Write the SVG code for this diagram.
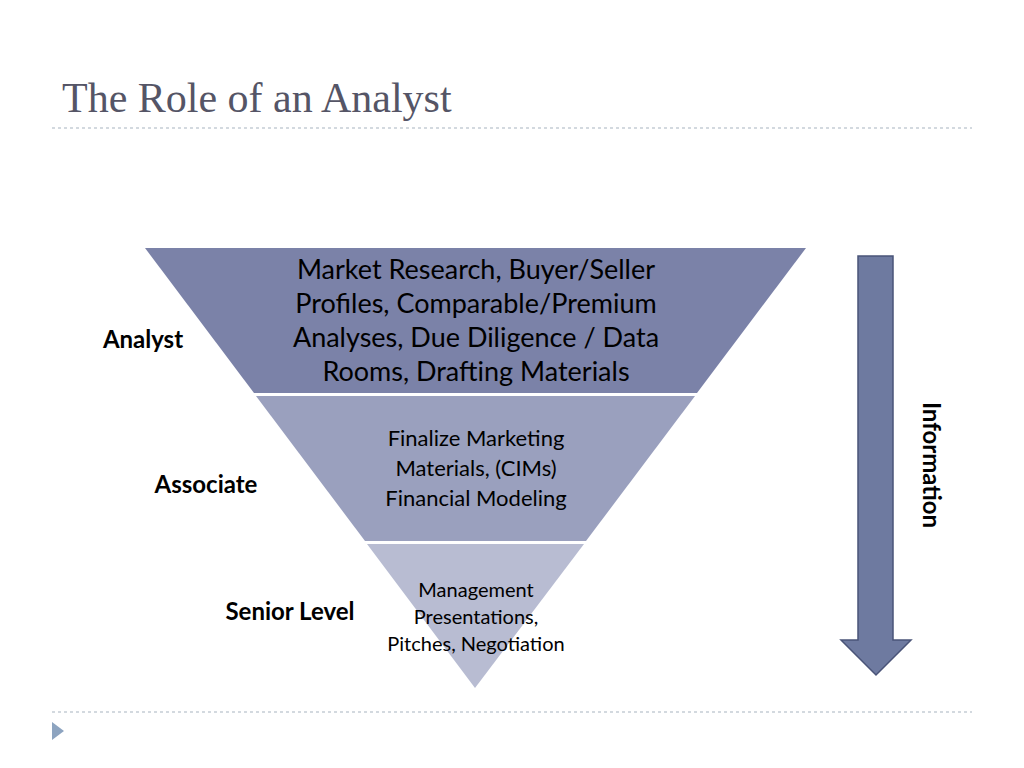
<svg xmlns="http://www.w3.org/2000/svg" width="1024" height="768" viewBox="0 0 1024 768">
<style>
.t{font-family:Lato,"Liberation Sans",sans-serif;fill:#000;text-anchor:middle}
.l{font-family:Lato,"Liberation Sans",sans-serif;font-weight:bold;font-size:24px;fill:#000;text-anchor:middle}
.d{stroke:#a8b4c0;stroke-width:1.2;stroke-dasharray:3 3;fill:none}
</style>
<rect width="1024" height="768" fill="#fff"/>
<text x="62" y="112" font-family="'Liberation Serif',serif" font-size="42" fill="#555566">The Role of an Analyst</text>
<line class="d" x1="52" y1="128" x2="972" y2="128"/>
<line class="d" x1="52" y1="712" x2="972" y2="712"/>
<polygon points="52,722 64,731 52,740" fill="#8da4c0"/>
<g id="top"><polygon points="145,248 806,248 697,393 254,393" fill="#7b82a8"/>
<text class="t" font-size="27"><tspan x="476" y="279">Market Research, Buyer/Seller</tspan><tspan x="476" y="313">Profiles, Comparable/Premium</tspan><tspan x="476" y="347">Analyses, Due Diligence / Data</tspan><tspan x="476" y="381">Rooms, Drafting Materials</tspan></text></g>
<g id="mid"><polygon points="256,396 695,396 586,541 365,541" fill="#9aa0be"/>
<text class="t" font-size="22"><tspan x="476" y="446">Finalize Marketing</tspan><tspan x="476" y="476">Materials, (CIMs)</tspan><tspan x="476" y="506">Financial Modeling</tspan></text></g>
<g id="bot"><polygon points="367,544 584,544 475,688" fill="#b8bcd2"/>
<text class="t" font-size="20"><tspan x="476" y="597">Management</tspan><tspan x="476" y="624">Presentations,</tspan><tspan x="476" y="651">Pitches, Negotiation</tspan></text></g>
<text class="l" x="143" y="348">Analyst</text>
<text class="l" x="206" y="493">Associate</text>
<text class="l" x="290" y="620">Senior Level</text>
<g id="arrow"><polygon points="858,256 893,256 893,640 911,640 876,675 841,640 858,640" fill="#6e7aa0" stroke="#4a5478" stroke-width="1.5"/></g>
<text class="l" transform="translate(923,465) rotate(90)" font-size="23">Information</text>
</svg>
